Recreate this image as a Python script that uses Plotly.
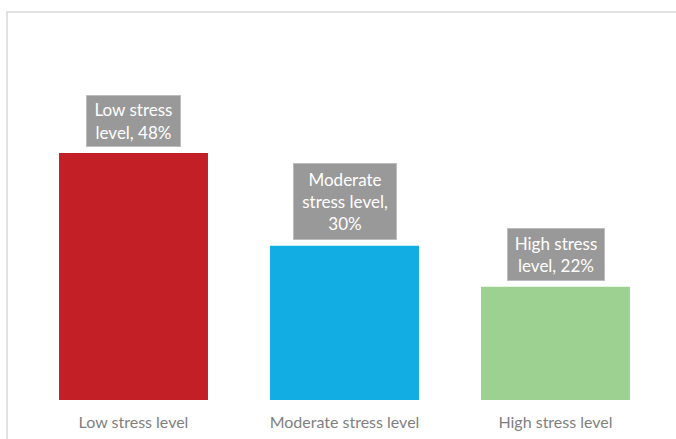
import plotly.graph_objects as go

categories = ["Low stress level", "Moderate stress level", "High stress level"]
values = [48, 30, 22]
label_texts = ["Low stress<br>level, 48%", "Moderate<br>stress level,<br>30%", "High stress<br>level, 22%"]
colors = ["#C21F26", "#12AEE3", "#9DD192"]

# label box sizes (inner, px)
box_w = [91, 100, 94]
box_h = [48, 73, 49]

fig = go.Figure()
fig.add_trace(go.Bar(x=categories, y=values, marker=dict(color=colors, line=dict(width=0)),
                     width=0.706, hoverinfo="skip"))

for c, v, t, bw, bh in zip(categories, values, label_texts, box_w, box_h):
    fig.add_annotation(x=c, y=v, text=t, showarrow=False, yanchor="bottom", yshift=6,
                       width=bw, height=bh, align="center", valign="middle",
                       font=dict(family="Lato", size=17, color="white"),
                       bgcolor="#999999", bordercolor="#BDBDBD", borderwidth=1, borderpad=1)

L, R, T, B = 28, 15, 12, 39
W, H = 676, 439
pw = W - L - R
ph = H - T - B
fig.add_shape(type="rect", xref="paper", yref="paper",
              x0=(7 - L) / pw, x1=1.2, y0=-0.5, y1=1.0,
              line=dict(color="#D9D9D9", width=1.5), fillcolor="rgba(0,0,0,0)", layer="below")

fig.update_layout(
    width=W, height=H, margin=dict(l=L, r=R, t=T, b=B, autoexpand=False),
    paper_bgcolor="white", plot_bgcolor="white", showlegend=False,
    xaxis=dict(showgrid=False, showline=False, zeroline=False, ticks="", automargin=False,
               ticklabelstandoff=11,
               tickfont=dict(family="Lato", size=16, color="#7F7F7F")),
    yaxis=dict(range=[0, ph / (247 / 48)], visible=False, showgrid=False, zeroline=False,
               automargin=False),
    bargap=0.294,
)

fig.write_html("out.html", config={"displayModeBar": False},
               post_script="document.body.style.margin='0px';document.body.style.overflow='hidden';")
